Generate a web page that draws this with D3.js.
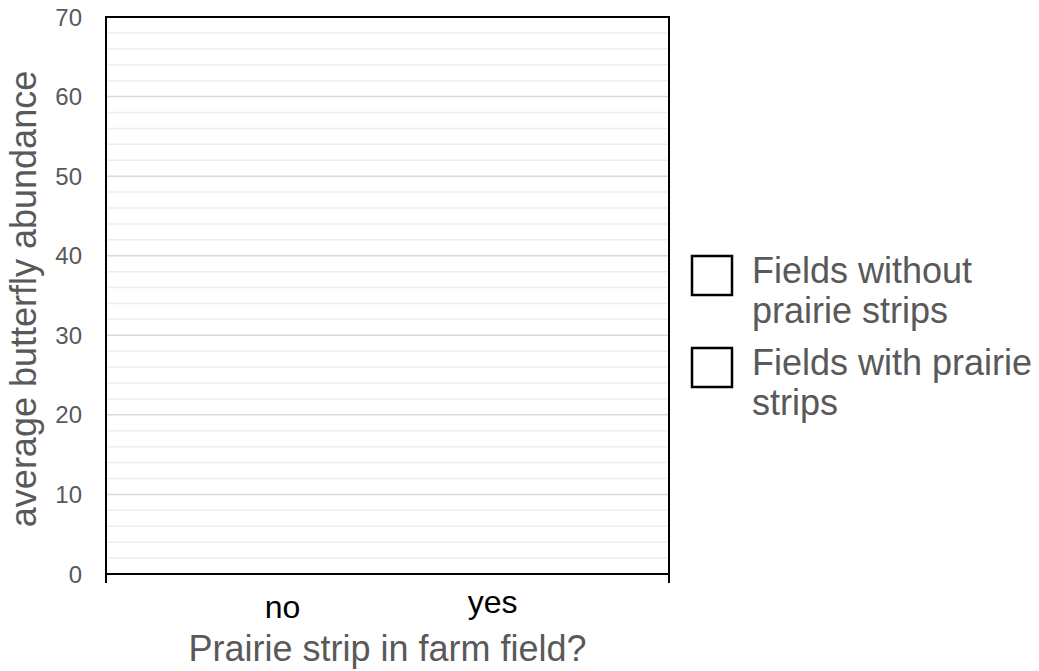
<!DOCTYPE html>
<html>
<head>
<meta charset="utf-8">
<script src="https://cdn.jsdelivr.net/npm/d3@7"></script>
<style>
  html, body { margin: 0; padding: 0; background: #fff; }
  svg { display: block; font-family: "Liberation Sans", Arial, sans-serif; }
</style>
</head>
<body>
<svg id="chart" width="1039" height="671"></svg>
<script>
// ---- data (blank worksheet chart: no values entered) ----
const categories = ["no", "yes"];
const seriesNames = ["Fields without prairie strips", "Fields with prairie strips"];
const seriesWithout = [null, null];
const seriesWith = [null, null];
const yTicks = [0, 10, 20, 30, 40, 50, 60, 70];
const yMinorTicks = [2, 4, 6, 8, 12, 14, 16, 18, 22, 24, 26, 28, 32, 34, 36, 38, 42, 44, 46, 48, 52, 54, 56, 58, 62, 64, 66, 68];
const yTitle = "average butterfly abundance";
const xTitle = "Prairie strip in farm field?";
const legendLines = [["Fields without", "prairie strips"], ["Fields with prairie", "strips"]];

(function () {
const svg = d3.select("#chart");
const pL = 106, pR = 669, pT = 17, pB = 574;
const grey = "#595959";

const y = d3.scaleLinear().domain([0, 70]).range([pB, pT]);
const x = d3.scalePoint().domain(categories).range([pL, pR]).padding(0.84);
const xb = d3.scaleBand().domain(seriesNames).range([-60, 60]).padding(0.1);

// minor gridlines
svg.append("g").selectAll("line").data(yMinorTicks).join("line")
  .attr("x1", pL).attr("x2", pR)
  .attr("y1", d => y(d)).attr("y2", d => y(d))
  .attr("stroke", "#eeeeee").attr("stroke-width", 1.5);
// major gridlines
svg.append("g").selectAll("line").data(yTicks.filter(d => d > 0 && d < 70)).join("line")
  .attr("x1", pL).attr("x2", pR)
  .attr("y1", d => y(d)).attr("y2", d => y(d))
  .attr("stroke", "#d9d9d9").attr("stroke-width", 1.5);

// bars (none, since values are blank)
const rows = [];
categories.forEach((c, i) => {
  rows.push({ c, s: seriesNames[0], v: seriesWithout[i] });
  rows.push({ c, s: seriesNames[1], v: seriesWith[i] });
});
svg.append("g").selectAll("rect").data(rows.filter(r => r.v != null)).join("rect")
  .attr("x", r => x(r.c) + xb(r.s)).attr("width", xb.bandwidth())
  .attr("y", r => y(r.v)).attr("height", r => y(0) - y(r.v))
  .attr("fill", "none").attr("stroke", "#000");

// frame
svg.append("rect")
  .attr("x", pL).attr("y", pT).attr("width", pR - pL).attr("height", pB - pT)
  .attr("fill", "none").attr("stroke", "#000").attr("stroke-width", 2);

// end ticks on bottom axis
svg.append("g").selectAll("line").data(x.range()).join("line")
  .attr("x1", d => d).attr("x2", d => d)
  .attr("y1", pB).attr("y2", pB + 9)
  .attr("stroke", "#000").attr("stroke-width", 2);

// y tick labels
svg.append("g").selectAll("text").data(yTicks).join("text")
  .attr("x", 82).attr("y", d => y(d)).attr("dy", "0.36em")
  .attr("text-anchor", "end").attr("font-size", 24).attr("fill", grey)
  .text(d => d);

// x tick labels
svg.append("g").selectAll("text").data(categories).join("text")
  .attr("x", d => x(d)).attr("y", (d, i) => i === 0 ? 618 : 613)
  .attr("text-anchor", "middle").attr("font-size", 32).attr("fill", "#000")
  .text(d => d);

// axis titles
svg.append("text")
  .attr("x", (pL + pR) / 2).attr("y", 661)
  .attr("text-anchor", "middle").attr("font-size", 36).attr("fill", grey)
  .text(xTitle);
svg.append("text")
  .attr("transform", `translate(36, 299) rotate(-90)`)
  .attr("text-anchor", "middle").attr("font-size", 36).attr("fill", grey)
  .text(yTitle);

// legend
const lg = svg.append("g").selectAll("g").data(seriesNames).join("g")
  .attr("transform", (d, i) => `translate(692, ${256 + i * 92})`);
lg.append("rect").attr("width", 40).attr("height", 39)
  .attr("fill", "#fff").attr("stroke", "#000").attr("stroke-width", 2.5);
lg.each(function (d, i) {
  d3.select(this).selectAll("text").data(legendLines[i]).join("text")
    .attr("x", 60).attr("y", (t, j) => 27 + j * 40)
    .attr("font-size", 36).attr("fill", grey)
    .text(t => t);
});
})();
</script>
</body>
</html>
